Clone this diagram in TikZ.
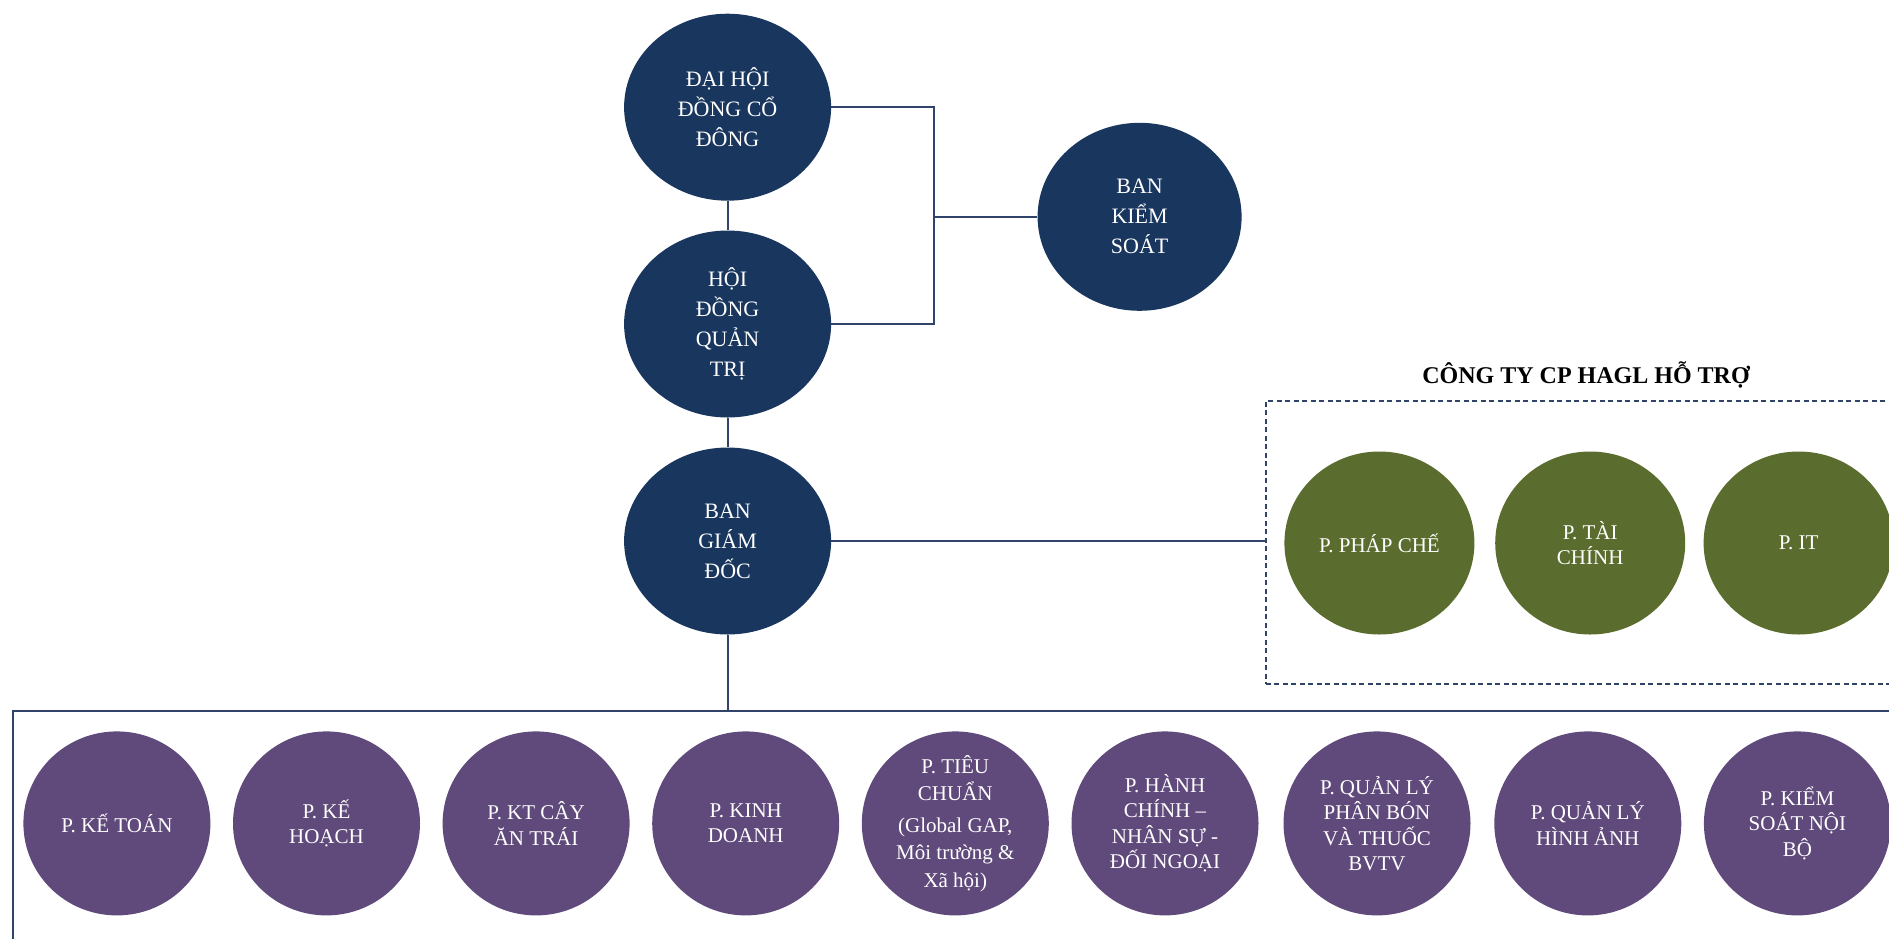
\documentclass[tikz,border=0pt]{standalone}
\usepackage{fontspec}
\setmainfont{Liberation Serif}
\usetikzlibrary{shapes.geometric}
\definecolor{navy}{HTML}{18365E}
\definecolor{olive}{HTML}{5B6D2E}
\definecolor{plum}{HTML}{604A7B}
\definecolor{linec}{HTML}{2F4468}
\tikzset{
  bubble/.style={ellipse, inner sep=0pt, align=center, text=white},
  topb/.style={bubble, fill=navy, minimum width=207, minimum height=187,
    font=\fontsize{22}{30}\selectfont},
  greenb/.style={bubble, fill=olive, minimum width=190, minimum height=183,
    font=\fontsize{21}{25.5}\selectfont},
  deptb/.style={bubble, fill=plum, minimum width=187, minimum height=184,
    font=\fontsize{21}{25.5}\selectfont},
  conn/.style={draw=linec, line width=1.8pt},
  frameb/.style={draw=linec, line width=2.2pt, rectangle, anchor=north west, inner sep=0pt},
  dashb/.style={draw=linec, line width=1.7pt, dash pattern=on 5pt off 3.5pt, rectangle, anchor=north west, inner sep=0pt}
}
\begin{document}
\begin{tikzpicture}[x=1pt,y=-1pt]
\clip (0,0) rectangle (1889,938);
\fill[white] (0,0) rectangle (1889,938);
% frames
\node[frameb, minimum width=1900, minimum height=280] (deptbox) at (12,709.6) {};
\node[dashb, minimum width=640, minimum height=283] (suppbox) at (1265,400) {};
\node[font=\bfseries\fontsize{24}{28}\selectfont, text=black] (supptitle) at (1586,374.7) {CÔNG TY CP HAGL HỖ TRỢ};
% top column
\node[topb] (dhdcd) at (727.6,107.2) {ĐẠI HỘI\\ĐỒNG CỔ\\ĐÔNG};
\node[topb] (hdqt) at (727.6,324) {HỘI\\ĐỒNG\\QUẢN\\TRỊ};
\node[topb] (bgd) at (727.6,541) {BAN\\GIÁM\\ĐỐC};
\node[topb, minimum width=204, minimum height=188] (bks) at (1139.6,216.8) {BAN\\KIỂM\\SOÁT};
% junction
\coordinate (j1) at (933.6,107.2);
\coordinate (j2) at (933.6,324);
\coordinate (jm) at (933.6,216.8);
\draw[conn] (dhdcd.east) -- (j1) -- (j2) -- (hdqt.east);
\draw[conn] (jm) -- (bks.west);
\draw[conn] (dhdcd.south) -- (hdqt.north);
\draw[conn] (hdqt.south) -- (bgd.north);
\draw[conn] (bgd.south) -- (bgd.south |- deptbox.north);
\draw[conn] (bgd.east) -- (bgd.east -| suppbox.west);
% support units
\node[greenb] (phapche) at (1379.4,543) {P. PHÁP CHẾ};
\node[greenb] (taichinh) at (1590.2,543) {P. TÀI\\CHÍNH};
\node[greenb] (it) at (1798.6,543) {P. IT};
% departments
\node[deptb] (d1) at (116.9,823.4) {P. KẾ TOÁN};
\node[deptb] (d2) at (326.5,823.4) {P. KẾ\\HOẠCH};
\node[deptb] (d3) at (536.1,823.4) {P. KT CÂY\\ĂN TRÁI};
\node[deptb] (d4) at (745.7,823.4) {P. KINH\\DOANH};
\node[deptb, inner ysep=-20pt, inner xsep=-8pt, font=\fontsize{21}{27.5}\selectfont] (d5) at (955.3,823.4) {P. TIÊU\\CHUẨN\\[4pt](Global GAP,\\Môi trường \&\\Xã hội)};
\node[deptb] (d6) at (1165,823.4) {P. HÀNH\\CHÍNH –\\NHÂN SỰ -\\ĐỐI NGOẠI};
\node[deptb] (d7) at (1377,823.4) {P. QUẢN LÝ\\PHÂN BÓN\\VÀ THUỐC\\BVTV};
\node[deptb] (d8) at (1587.8,823.4) {P. QUẢN LÝ\\HÌNH ẢNH};
\node[deptb] (d9) at (1797.4,823.4) {P. KIỂM\\SOÁT NỘI\\BỘ};
\end{tikzpicture}
\end{document}
